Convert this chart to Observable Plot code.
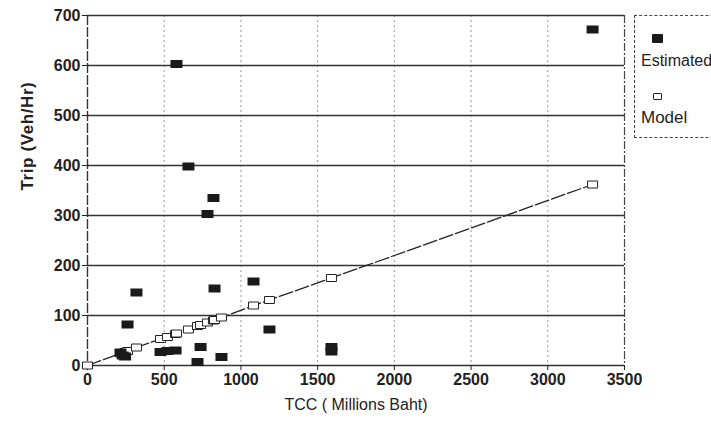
<!DOCTYPE html>
<html><head><meta charset="utf-8">
<script src="https://cdn.jsdelivr.net/npm/d3@7"></script>
<script src="https://cdn.jsdelivr.net/npm/@observablehq/plot@0.6"></script>
<style>
body{margin:0;background:#fff;}
#wrap{position:relative;width:711px;height:422px;overflow:hidden;font-family:"Liberation Sans",Arial,sans-serif;}
#legend{position:absolute;left:634px;top:15px;width:100px;height:123px;border:1px dashed #444;box-sizing:border-box;font-size:16px;color:#222;}
#legend .t{position:absolute;left:6px;line-height:18px;}
#legend .f{position:absolute;left:17px;top:18px;width:11px;height:9px;background:#1a1a1a;border-radius:1px;}
#legend .o{position:absolute;left:18px;top:77px;width:7px;height:5px;border:1px solid #222;border-radius:1px;}
</style></head>
<body><div id="wrap"><div id="legend"><div class="f"></div><div class="t" style="top:36px">Estimated</div><div class="o"></div><div class="t" style="top:93px;font-size:17px">Model</div></div></div>
<script>
const tcc = [215, 230, 245, 261, 319, 476, 521, 574, 580, 658, 717, 737, 782, 821, 828, 873, 1082, 1186, 1590, 1590, 3292];
const estimated = [26, 20, 18, 82, 146, 27, 29, 30, 603, 398, 7, 37, 303, 335, 154, 17, 168, 72, 37, 28, 672];
const modelX = [0, 215, 230, 245, 261, 319, 476, 521, 574, 580, 658, 717, 737, 782, 821, 828, 873, 1082, 1186, 1590, 3292];
const modelY = [0, 24, 25, 27, 29, 36, 53, 57, 63, 64, 72, 79, 81, 86, 90, 91, 96, 120, 131, 175, 362];
const xTicks = [0, 500, 1000, 1500, 2000, 2500, 3000, 3500];
const yTicks = [0, 100, 200, 300, 400, 500, 600, 700];

const est = tcc.map((x, i) => ({x, y: estimated[i]}));
const mod = modelX.map((x, i) => ({x, y: modelY[i]}));

const filledRect = {draw(ctx) { ctx.rect(-6, -4, 12, 8); }};
const openRect = {draw(ctx) { ctx.rect(-5, -3.5, 10, 7); }};

const chart = Plot.plot({
  width: 711, height: 422,
  marginLeft: 87, marginRight: 87, marginTop: 15, marginBottom: 57,
  style: {fontFamily: '"Liberation Sans", Arial, sans-serif', fontSize: "16px", color: "#222", background: "transparent"},
  x: {domain: [0, 3500]},
  y: {domain: [0, 700]},
  marks: [
    Plot.ruleX(xTicks.slice(1, -1), {stroke: "#999", strokeDasharray: "2,3", strokeWidth: 1}),
    Plot.ruleY(yTicks, {stroke: "#333", strokeWidth: 1.3}),
    Plot.ruleX([3500], {stroke: "#444", strokeDasharray: "8,2,2,2", strokeWidth: 1.2}),
    Plot.ruleX([0], {stroke: "#333", strokeDasharray: "10,2", strokeWidth: 1.4}),
    Plot.axisX({ticks: xTicks, tickSize: 5, tickPadding: 3, fontSize: 16, fontWeight: "bold", label: null, tickFormat: d => String(d)}),
    Plot.axisY({ticks: yTicks, tickSize: 5, tickPadding: 2, fontSize: 16, fontWeight: "bold", label: null, tickFormat: d => String(d)}),
    Plot.text(["TCC ( Millions Baht)"], {frameAnchor: "bottom", dy: 44, fontSize: 16, fill: "#222", text: d => d}),
    Plot.text(["Trip (Veh/Hr)"], {frameAnchor: "left", dx: -60, rotate: -90, fontSize: 17, fontWeight: "bold", fill: "#222", text: d => d}),
    Plot.line(mod, {x: "x", y: "y", stroke: "#222", strokeWidth: 1.3, strokeDasharray: "14,3"}),
    Plot.dot(mod, {x: "x", y: "y", symbol: openRect, r: 4, stroke: "#222", fill: "white", strokeWidth: 1}),
    Plot.dot(est, {x: "x", y: "y", symbol: filledRect, r: 5, fill: "#1a1a1a", stroke: "none"})
  ]
});
document.getElementById("wrap").prepend(chart);
chart.style.position = "absolute"; chart.style.left = "0"; chart.style.top = "0";
chart.querySelectorAll("text").forEach(t => { if (t.textContent === "Trip (Veh/Hr)") t.style.letterSpacing = "0.6px"; });
</script></body></html>
